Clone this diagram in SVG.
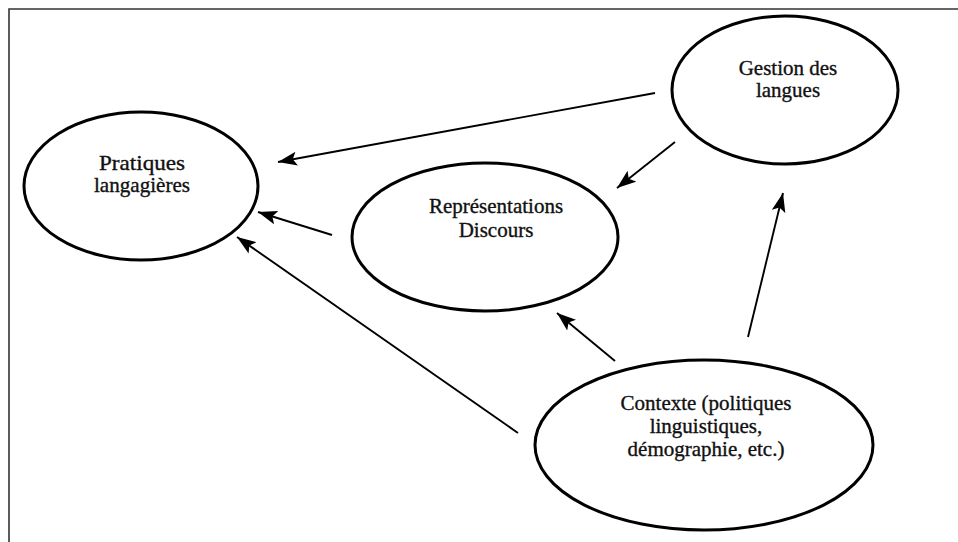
<svg xmlns="http://www.w3.org/2000/svg" width="958" height="542" viewBox="0 0 958 542">
<style>
.node ellipse{fill:none;stroke:#000;stroke-width:3}
.node text{font-family:"Liberation Serif","Times New Roman",serif;font-size:21px;fill:#111;stroke:#111;stroke-width:0.35;text-anchor:middle}
.edge{stroke:#000;stroke-width:1.9;fill:none;marker-end:url(#ah)}
</style>
<defs>
<marker id="ah" markerUnits="userSpaceOnUse" markerWidth="20" markerHeight="15" refX="19" refY="7" orient="auto">
<path d="M0,0 L19,7 L0,14 L4,7 z" fill="#000"/>
</marker>
</defs>
<rect width="958" height="542" fill="#fff"/>
<path d="M9,542 L9,9 L958,9" fill="none" stroke="#333" stroke-width="1.6"/>
<g id="pratiques" class="node">
<ellipse cx="141" cy="186" rx="117" ry="74"/>
<text x="142" y="170" textLength="86" lengthAdjust="spacingAndGlyphs">Pratiques</text>
<text x="142" y="192" textLength="96" lengthAdjust="spacingAndGlyphs">langagières</text>
</g>
<g id="representations" class="node">
<ellipse cx="485" cy="237" rx="133" ry="74"/>
<text x="496" y="213">Représentations</text>
<text x="496" y="237">Discours</text>
</g>
<g id="gestion" class="node">
<ellipse cx="785" cy="90" rx="113" ry="74"/>
<text x="788" y="75">Gestion des</text>
<text x="788" y="97">langues</text>
</g>
<g id="contexte" class="node">
<ellipse cx="704" cy="445" rx="169" ry="85"/>
<text x="706" y="410">Contexte (politiques</text>
<text x="706" y="433">linguistiques,</text>
<text x="706" y="456">démographie, etc.)</text>
</g>
<g id="connectors">
<line class="edge" x1="655" y1="93" x2="278" y2="162"/>
<line class="edge" x1="675" y1="142" x2="617" y2="188"/>
<line class="edge" x1="332" y1="235" x2="258" y2="212"/>
<line class="edge" x1="518" y1="433" x2="237" y2="237"/>
<line class="edge" x1="615" y1="361" x2="557" y2="313"/>
<line class="edge" x1="748" y1="337" x2="783" y2="193"/>
</g>
</svg>
